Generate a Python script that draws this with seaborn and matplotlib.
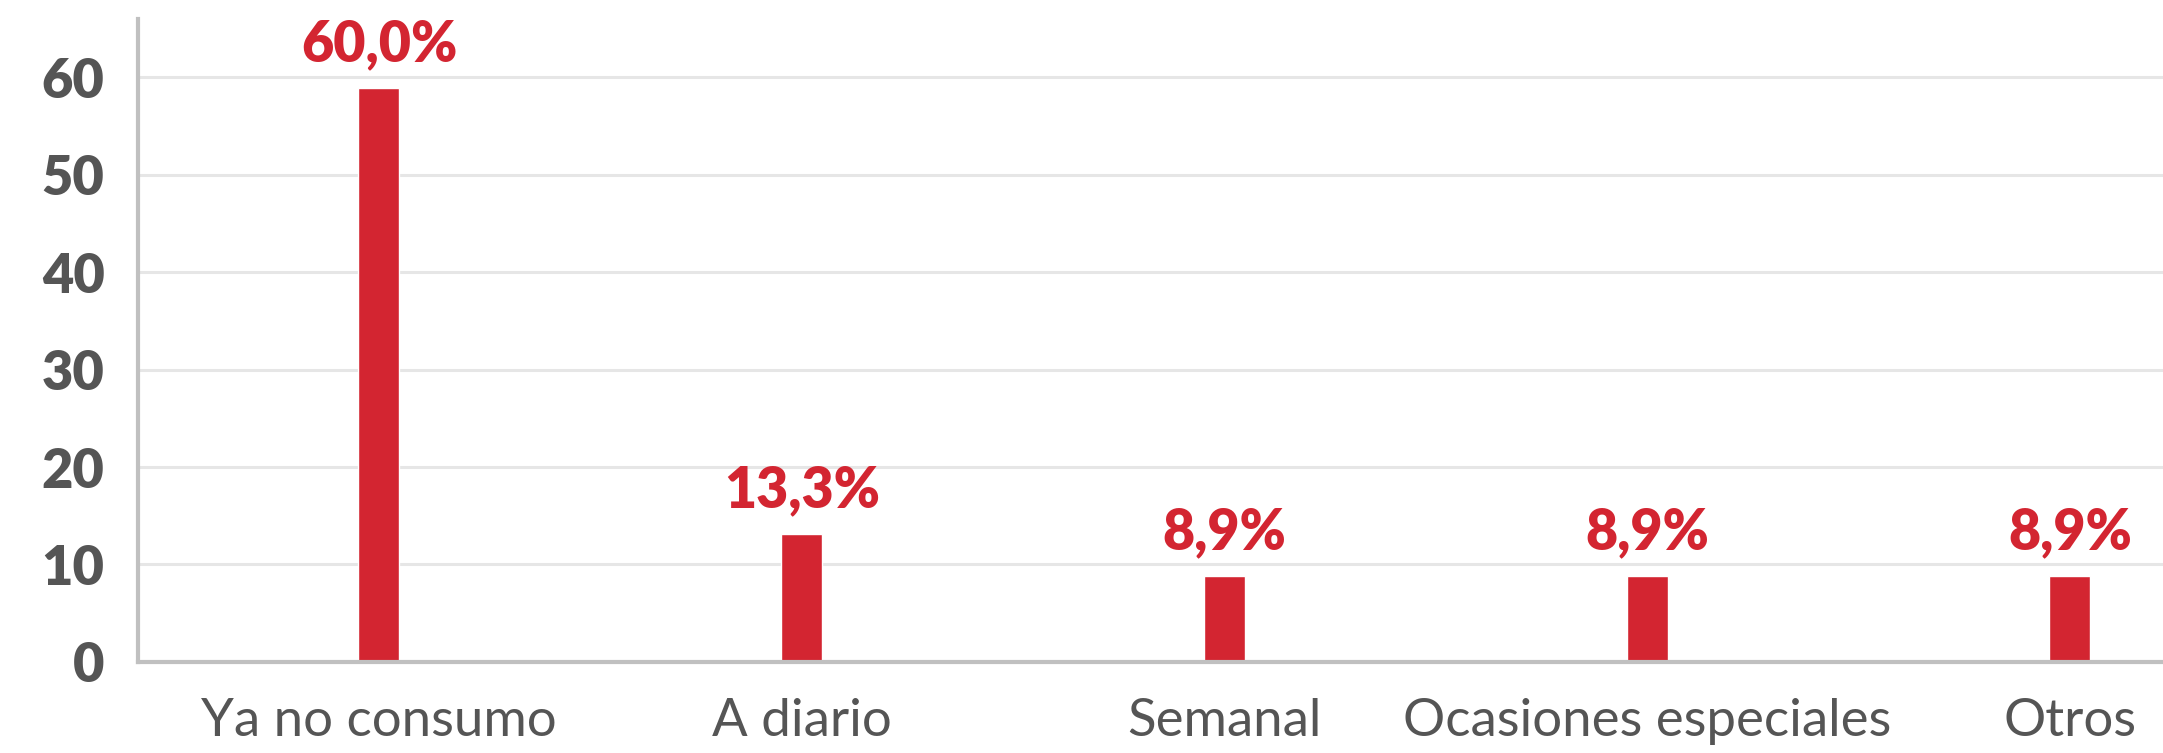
import matplotlib
matplotlib.use("Agg")
import matplotlib.pyplot as plt
import seaborn as sns
import pandas as pd

categories = ["Ya no consumo", "A diario", "Semanal", "Ocasiones especiales", "Otros"]
bar_heights = [58.9, 13.1, 8.8, 8.8, 8.8]
value_labels = ["60,0%", "13,3%", "8,9%", "8,9%", "8,9%"]
y_ticks = [0, 10, 20, 30, 40, 50, 60]

red = "#d32531"
grey_text = "#555555"

sns.set_theme(style="white")
plt.rcParams["font.family"] = ["Lato", "DejaVu Sans"]

df = pd.DataFrame({"cat": categories, "val": bar_heights})

fig = plt.figure(figsize=(21.63, 7.53), dpi=100)
ax = fig.add_axes([0.0638, 0.121, 0.9362, 0.854])

sns.barplot(data=df, x="cat", y="val", color=red, saturation=1, width=0.097, ax=ax)

ax.set_xlim(-0.57, 4.22)
ax.set_ylim(0, 66)
ax.set_yticks(y_ticks)
ax.yaxis.grid(True, color="#e6e6e6", linewidth=2.2)
ax.set_axisbelow(True)
ax.set_xlabel("")
ax.set_ylabel("")

for side in ["top", "right"]:
    ax.spines[side].set_visible(False)
for side in ["left", "bottom"]:
    ax.spines[side].set_color("#c0c0c0")
    ax.spines[side].set_linewidth(3)

ax.tick_params(axis="y", length=0, pad=24, labelsize=39, labelcolor=grey_text)
ax.tick_params(axis="x", length=0, pad=26, labelsize=38, labelcolor=grey_text)
for t in ax.get_yticklabels():
    t.set_fontweight("heavy")

for i, (h, lab) in enumerate(zip(bar_heights, value_labels)):
    ax.annotate(lab, (i, h), xytext=(0, 13), textcoords="offset points",
                ha="center", va="bottom", color=red, fontsize=40, fontweight="heavy")

fig.savefig("out.png", dpi=100)
